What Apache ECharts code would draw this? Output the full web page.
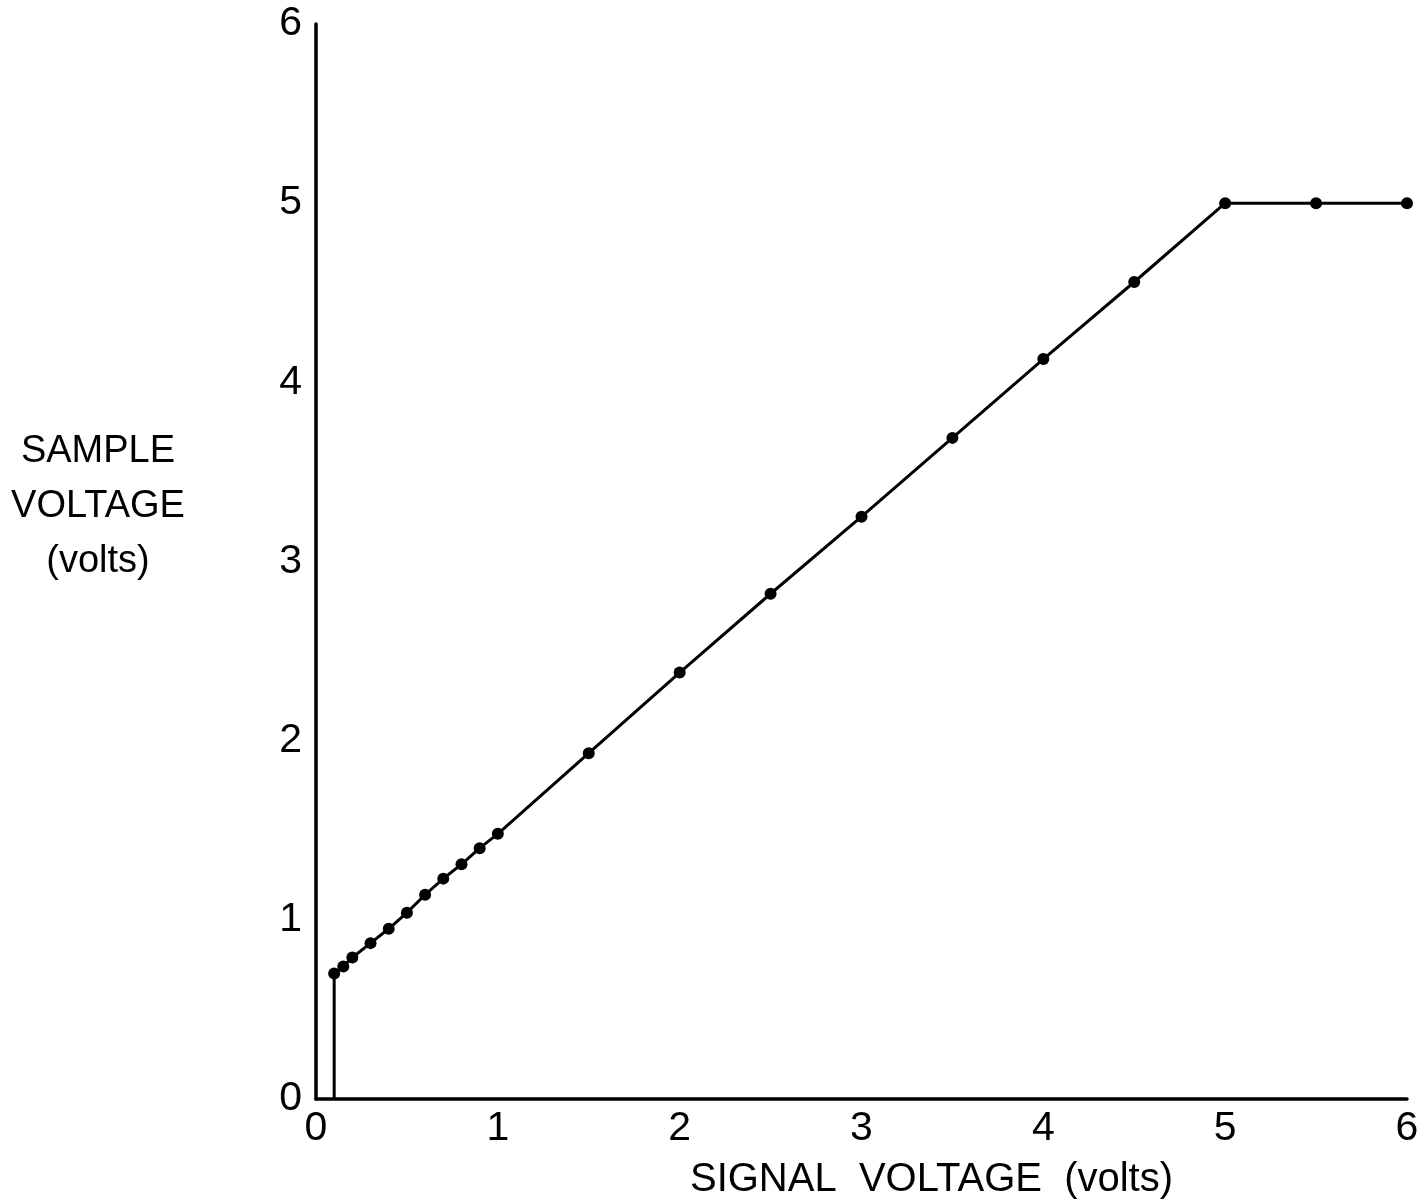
<!DOCTYPE html>
<html>
<head>
<meta charset="utf-8">
<script src="https://cdn.jsdelivr.net/npm/echarts@6/dist/echarts.min.js"></script>
<style>
html,body{margin:0;padding:0;background:#fff;}
#chart{width:1421px;height:1200px;}
</style>
</head>
<body>
<div id="chart"></div>
<script>
// Signal voltage (x, volts)
const signalVoltage = [0.1, 0.1, 0.15, 0.2, 0.3, 0.4, 0.5, 0.6, 0.7, 0.8, 0.9, 1.0, 1.5, 2.0, 2.5, 3.0, 3.5, 4.0, 4.5, 5.0, 5.5, 6.0];
// Sample voltage (y, volts)
const sampleVoltage = [0, 0.70, 0.74, 0.79, 0.87, 0.95, 1.04, 1.14, 1.23, 1.31, 1.40, 1.48, 1.93, 2.38, 2.82, 3.25, 3.69, 4.13, 4.56, 5.0, 5.0, 5.0];
// whether each point is drawn with a dot
const hasDot = [false, true, true, true, true, true, true, true, true, true, true, true, true, true, true, true, true, true, true, true, true, true];
const xTicks = [0, 1, 2, 3, 4, 5, 6];
const yTicks = [0, 1, 2, 3, 4, 5, 6];

const data = signalVoltage.map((x, i) => ({
  value: [x, sampleVoltage[i]],
  symbolSize: hasDot[i] ? 12 : 0
}));

const chart = echarts.init(document.getElementById('chart'));
const labelFont = '"Liberation Sans", Arial, sans-serif';
chart.setOption({
  backgroundColor: '#ffffff',
  animation: false,
  grid: { left: 316, right: 14, top: 24, bottom: 101, containLabel: false, outerBoundsMode: 'none' },
  xAxis: {
    type: 'value',
    min: 0, max: 6, interval: 1,
    name: 'SIGNAL  VOLTAGE  (volts)',
    nameLocation: 'middle',
    nameGap: 61,
    nameTextStyle: { fontFamily: labelFont, fontSize: 40, color: '#000', padding: [0, 0, 0, 140] },
    axisLine: { show: true, lineStyle: { color: '#000', width: 3.5 } },
    axisTick: { show: false },
    splitLine: { show: false },
    axisLabel: { fontFamily: labelFont, fontSize: 41, color: '#000', margin: 9,
      formatter: v => xTicks.includes(v) ? String(v) : '' }
  },
  yAxis: {
    type: 'value',
    min: 0, max: 6, interval: 1,
    name: 'SAMPLE\nVOLTAGE\n(volts)\n\n',
    nameLocation: 'middle',
    nameRotate: 0,
    nameGap: 218,
    nameTextStyle: { fontFamily: labelFont, fontSize: 38, color: '#000', align: 'center', verticalAlign: 'middle', lineHeight: 55 },
    axisLine: { show: true, lineStyle: { color: '#000', width: 3.5 } },
    axisTick: { show: false },
    splitLine: { show: false },
    axisLabel: { fontFamily: labelFont, fontSize: 41, color: '#000', margin: 14,
      formatter: v => yTicks.includes(v) ? String(v) : '' }
  },
  series: [{
    type: 'line',
    data: data,
    symbol: 'circle',
    lineStyle: { color: '#000', width: 3 },
    itemStyle: { color: '#000' },
    clip: false
  }]
});
</script>
</body>
</html>
